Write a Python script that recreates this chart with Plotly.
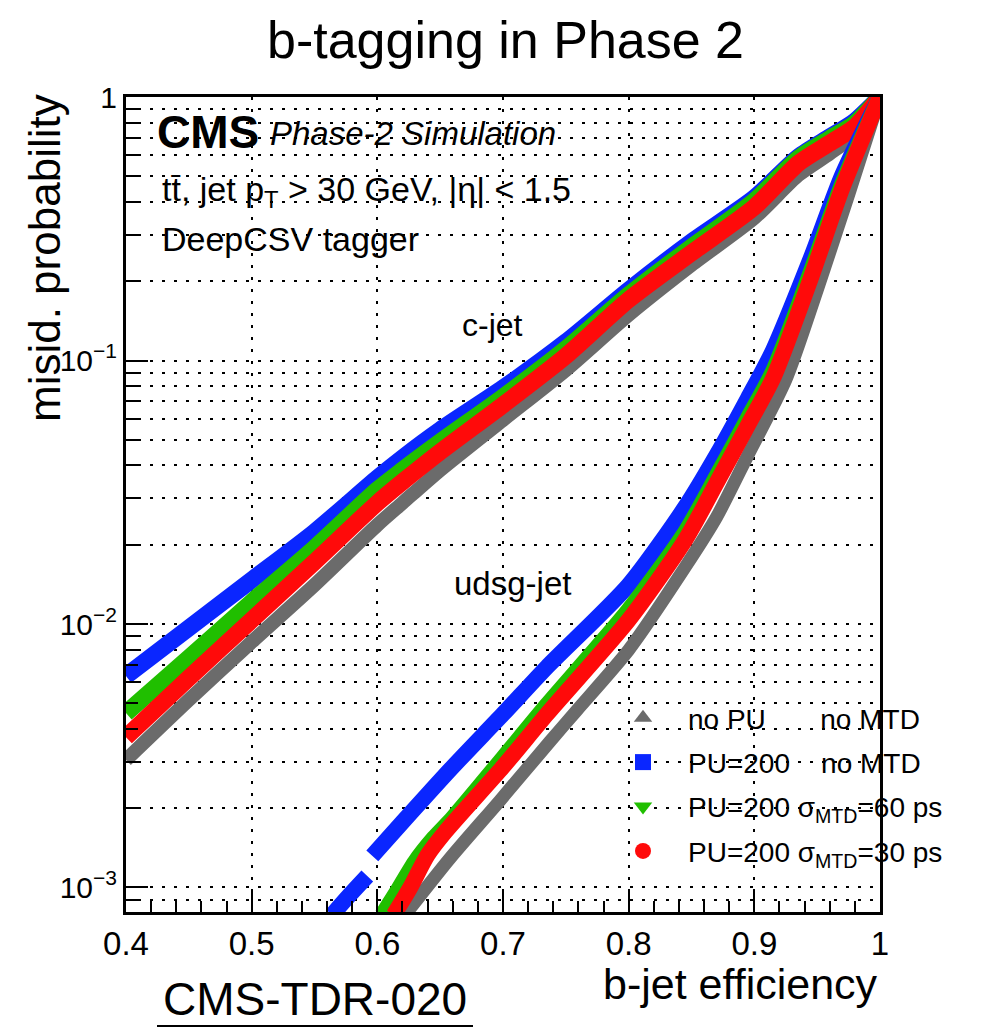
import plotly.graph_objects as go

# ---------------- data ----------------
c_eff = [0.40, 0.45, 0.50, 0.55, 0.60, 0.62, 0.65, 0.70, 0.75, 0.80, 0.85, 0.90, 0.935, 0.96, 0.98, 1.0]
c_nopu = [0.00305, 0.00515, 0.00855, 0.01406, 0.02375, 0.0288, 0.0384, 0.0595, 0.0920, 0.149, 0.2304, 0.3475, 0.505, 0.610, 0.720, 1.0]
c_pu200 = [0.00635, 0.00966, 0.01469, 0.02234, 0.0358, 0.0427, 0.0545, 0.0786, 0.1175, 0.185, 0.282, 0.414, 0.592, 0.705, 0.810, 1.0]
c_mtd60 = [0.00459, 0.00743, 0.01211, 0.01942, 0.0323, 0.0384, 0.0491, 0.0727, 0.1106, 0.1773, 0.2697, 0.403, 0.585, 0.695, 0.795, 1.0]
c_mtd30 = [0.00372, 0.00624, 0.01035, 0.01719, 0.02879, 0.0346, 0.0450, 0.0678, 0.1040, 0.170, 0.256, 0.382, 0.560, 0.668, 0.770, 1.0]

l_nopu_eff = [0.622, 0.658, 0.698, 0.737, 0.759, 0.80, 0.845, 0.87, 0.895, 0.925, 0.95, 0.975, 1.0]
l_nopu = [7.87e-4, 1.294e-3, 2.15e-3, 3.565e-3, 4.72e-3, 7.97e-3, 0.01645, 0.02547, 0.0438, 0.0843, 0.185, 0.425, 1.0]

l_pu200_eff = [0.564, 0.578, 0.592, None, 0.596, 0.62, 0.66, 0.70, 0.735, 0.80, 0.845, 0.87, 0.895, 0.915, 0.945, 0.97, 1.0]
l_pu200 = [7.87e-4, 9.37e-4, 1.106e-3, None, 1.318e-3, 1.77e-3, 2.87e-3, 4.55e-3, 6.87e-3, 0.01406, 0.0278, 0.0438, 0.0721, 0.1096, 0.245, 0.506, 1.0]

l_mtd60_eff = [0.604, 0.615, 0.63, 0.645, 0.66, 0.70, 0.735, 0.80, 0.845, 0.87, 0.895, 0.915, 0.945, 0.97, 1.0]
l_mtd60 = [7.87e-4, 9.53e-4, 1.25e-3, 1.54e-3, 1.835e-3, 3.10e-3, 4.93e-3, 0.0113, 0.0223, 0.0364, 0.0605, 0.0912, 0.217, 0.4677, 1.0]

l_mtd30_eff = [0.613, 0.626, 0.64, 0.654, 0.70, 0.735, 0.80, 0.845, 0.87, 0.895, 0.915, 0.945, 0.97, 1.0]
l_mtd30 = [7.87e-4, 9.96e-4, 1.328e-3, 1.624e-3, 2.87e-3, 4.55e-3, 0.01035, 0.02084, 0.0343, 0.0569, 0.0858, 0.2057, 0.4515, 1.0]

series_names = ["no PU\u00a0\u00a0\u00a0\u00a0\u00a0\u00a0\u00a0no MTD",
                "PU=200\u00a0\u00a0\u00a0\u00a0no MTD",
                "PU=200 σ<sub>MTD</sub>=60 ps",
                "PU=200 σ<sub>MTD</sub>=30 ps"]
series_colors = ["#6b6b6b", "#0a26ff", "#20bf00", "#ff0a0a"]
series_symbols = ["triangle-up", "square", "triangle-down", "circle"]

x_ticks = [0.4, 0.5, 0.6, 0.7, 0.8, 0.9, 1.0]
y_ticks = [1e-3, 1e-2, 1e-1, 1.0]
y_ticktext = ["10<sup>−3</sup>", "10<sup>−2</sup>", "10<sup>−1</sup>", "1"]

# ---------------- layout geometry ----------------
W, H = 991, 1029
L, R, T, B = 126, 880, 97, 912
FONT = "Liberation Sans, Arial, Helvetica, sans-serif"


def px(x):
    return (x - L) / (R - L)


def py(y):
    return (B - y) / (B - T)


fig = go.Figure()

c_sets = [c_nopu, c_pu200, c_mtd60, c_mtd30]
l_sets = [(l_nopu_eff, l_nopu), (l_pu200_eff, l_pu200), (l_mtd60_eff, l_mtd60), (l_mtd30_eff, l_mtd30)]
widths = [14, 17, 17, 17]

for i in range(4):
    fig.add_trace(go.Scatter(x=c_eff, y=c_sets[i], mode="lines", showlegend=False,
                             line=dict(color=series_colors[i], width=widths[i], shape="spline", smoothing=0.7),
                             hoverinfo="skip"))
for i in range(4):
    fig.add_trace(go.Scatter(x=l_sets[i][0], y=l_sets[i][1], mode="lines", showlegend=False,
                             line=dict(color=series_colors[i], width=widths[i] - 1, shape="spline", smoothing=0.7),
                             connectgaps=False, hoverinfo="skip"))
# legend entries
for i in range(4):
    fig.add_trace(go.Scatter(x=[None], y=[None], mode="markers", name=series_names[i],
                             legendgroup="g%d" % i,
                             marker=dict(color=series_colors[i], symbol=series_symbols[i], size=16)))

minor_y = [m * 10 ** e for e in (-4, -3, -2, -1) for m in range(2, 10) if 8.07e-4 < m * 10 ** e < 1]

fig.update_layout(
    width=W, height=H,
    margin=dict(l=L, r=W - R, t=T, b=H - B),
    paper_bgcolor="white", plot_bgcolor="white",
    font=dict(family=FONT, color="black"),
    showlegend=True,
    legend=dict(x=px(598), y=py(693), xanchor="left", yanchor="top",
                bgcolor="rgba(0,0,0,0)", font=dict(size=28, family=FONT),
                itemwidth=80, tracegroupgap=5, itemclick=False),
    xaxis=dict(range=[0.4, 1.0], tickvals=x_ticks, ticks="inside", ticklen=22, tickwidth=2,
               tickcolor="black", showline=True, linewidth=3, linecolor="black", mirror=True,
               showgrid=True, gridcolor="black", gridwidth=2, griddash="3px,9px",
               tickfont=dict(size=33, family=FONT), zeroline=False,
               minor=dict(dtick=0.02, ticks="inside", ticklen=11, tickwidth=2, tickcolor="black", showgrid=False)),
    yaxis=dict(type="log", range=[-3.093, 0.0], tickvals=y_ticks, ticktext=y_ticktext,
               ticks="inside", ticklen=22, tickwidth=2, tickcolor="black",
               showline=True, linewidth=3, linecolor="black", mirror=True,
               showgrid=True, gridcolor="black", gridwidth=2, griddash="3px,9px",
               tickfont=dict(size=30, family=FONT), zeroline=False,
               minor=dict(tickvals=minor_y, ticks="inside", ticklen=12, tickwidth=2, tickcolor="black",
                          showgrid=True, gridcolor="black", gridwidth=2, griddash="3px,9px")),
)

ann = []
ann.append(dict(text="b-tagging in Phase 2", x=px(505), y=py(40), xref="paper", yref="paper",
                showarrow=False, font=dict(size=52, family=FONT), xanchor="center", yanchor="middle"))
ann.append(dict(text="misid. probability", x=px(44), y=py(258), xref="paper", yref="paper",
                textangle=-90, showarrow=False, font=dict(size=44, family=FONT), xanchor="center", yanchor="middle"))
ann.append(dict(text="b-jet efficiency", x=px(880), y=py(984), xref="paper", yref="paper",
                showarrow=False, font=dict(size=43, family=FONT), xanchor="right", yanchor="middle"))
ann.append(dict(text="CMS-TDR-020", x=px(315), y=py(999), xref="paper", yref="paper",
                showarrow=False, font=dict(size=46, family=FONT), xanchor="center", yanchor="middle"))
ann.append(dict(text="<b>CMS</b>", x=px(155), y=py(132), xref="paper", yref="paper",
                showarrow=False, font=dict(size=46, family=FONT), xanchor="left", yanchor="middle"))
ann.append(dict(text="<i>Phase-2 Simulation</i>", x=px(268), y=py(134), xref="paper", yref="paper",
                showarrow=False, font=dict(size=33, family=FONT), xanchor="left", yanchor="middle"))
ann.append(dict(text="tt\u0304, jet p<sub>T</sub> > 30 GeV, |η| < 1.5", x=px(160), y=py(191), xref="paper", yref="paper",
                showarrow=False, font=dict(size=34, family=FONT), xanchor="left", yanchor="middle"))
ann.append(dict(text="DeepCSV tagger", x=px(160), y=py(239), xref="paper", yref="paper",
                showarrow=False, font=dict(size=34, family=FONT), xanchor="left", yanchor="middle"))
ann.append(dict(text="c-jet", x=px(492), y=py(325), xref="paper", yref="paper",
                showarrow=False, font=dict(size=32, family=FONT), xanchor="center", yanchor="middle"))
ann.append(dict(text="udsg-jet", x=px(512), y=py(583), xref="paper", yref="paper",
                showarrow=False, font=dict(size=33, family=FONT), xanchor="center", yanchor="middle"))
fig.update_layout(annotations=ann)

fig.add_shape(type="line", xref="paper", yref="paper", x0=px(157), x1=px(473), y0=py(1026), y1=py(1026),
              line=dict(color="black", width=2))

fig.write_html("out.html")
